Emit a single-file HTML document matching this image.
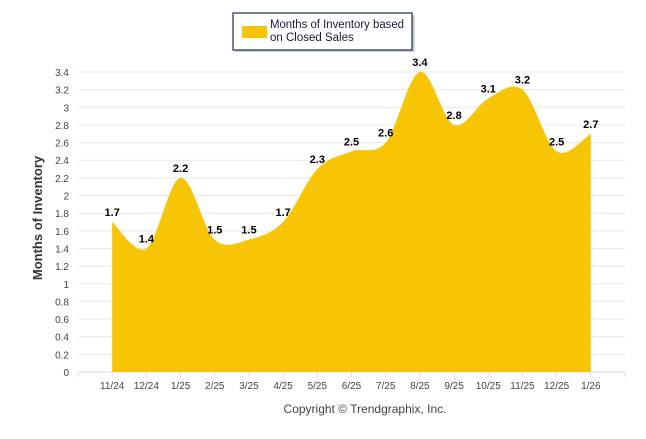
<!DOCTYPE html>
<html><head><meta charset="utf-8"><style>
body{margin:0;background:#fff;}
svg text{font-family:"Liberation Sans",Arial,sans-serif;}
</style></head><body>
<svg id="chart" width="646" height="434" xmlns="http://www.w3.org/2000/svg">
<g id="grid"></g>
<g id="area"></g>
<g id="yticks"></g>
<g id="xticks"></g>
<g id="labels"></g>
<text transform="translate(42,218) rotate(-90)" text-anchor="middle" font-size="13" font-weight="bold" fill="#333">Months of Inventory</text>
<text x="365" y="413" text-anchor="middle" font-size="12" fill="#444">Copyright © Trendgraphix, Inc.</text>
<g>
<rect x="235" y="15" width="180" height="37" fill="#888" opacity="0.4"/>
<rect x="233" y="13" width="179" height="37" fill="#fff" stroke="#1f2d4d" stroke-width="1.2"/>
<rect x="242" y="26" width="25" height="12" fill="#f7c406"/>
<text x="270" y="28" font-size="11.5" textLength="134" lengthAdjust="spacingAndGlyphs" fill="#1a1a40">Months of Inventory based</text>
<text x="270" y="41" font-size="11.5" fill="#1a1a40">on Closed Sales</text>
</g>
</svg>
<script>
const categories=["11/24","12/24","1/25","2/25","3/25","4/25","5/25","6/25","7/25","8/25","9/25","10/25","11/25","12/25","1/26"];
const values=[1.7,1.4,2.2,1.5,1.5,1.7,2.3,2.5,2.6,3.4,2.8,3.1,3.2,2.5,2.7];
const yTicks=[0,0.2,0.4,0.6,0.8,1,1.2,1.4,1.6,1.8,2,2.2,2.4,2.6,2.8,3,3.2,3.4];
const NS="http://www.w3.org/2000/svg";
const X0=78,X1=625,Y0=372,Y1=72,YMAX=3.4;
const step=(X1-X0)/(categories.length+1);
function xs(i){return X0+step*(i+1);}
function ys(v){return Y0-(v/YMAX)*(Y0-Y1);}
function mk(t,a,p){const e=document.createElementNS(NS,t);for(const k in a)e.setAttribute(k,a[k]);p.appendChild(e);return e;}
const grid=document.getElementById('grid'),yt=document.getElementById('yticks');
yTicks.forEach(v=>{
 const l=mk('line',{x1:X0,x2:X1,y1:ys(v),y2:ys(v),stroke:v===0?'#ddd':'#e8e8e8','stroke-width':1},grid);
 
 
 const t=mk('text',{x:69,y:ys(v)+4,'text-anchor':'end','font-size':10,fill:'#444'},yt);
 t.textContent=String(v);
 
 
});
const xt=document.getElementById('xticks');
for(let i=0;i<=categories.length+1;i++){const x=X0+step*i;mk('line',{x1:x,x2:x,y1:Y0,y2:Y0+5,stroke:'#ddd'},xt);}
categories.forEach((c,i)=>{
 const t=mk('text',{x:xs(i),y:Y0+17,'text-anchor':'middle','font-size':10,fill:'#444'},xt);
 t.textContent=c;
 
 
});
const pts=values.map((v,i)=>[xs(i),ys(v)]);
let d=`M${pts[0][0]},${Y0} L${pts[0][0]},${pts[0][1]}`;
for(let i=0;i<pts.length-1;i++){
 const p0=pts[Math.max(0,i-1)],p1=pts[i],p2=pts[i+1],p3=pts[Math.min(pts.length-1,i+2)];
 const s=1/6;
 let c1=[p1[0]+(p2[0]-p0[0])*s,p1[1]+(p2[1]-p0[1])*s];
 let c2=[p2[0]-(p3[0]-p1[0])*s,p2[1]-(p3[1]-p1[1])*s];
 d+=` C${c1[0]},${c1[1]} ${c2[0]},${c2[1]} ${p2[0]},${p2[1]}`;
}
d+=` L${pts[pts.length-1][0]},${Y0} Z`;
const area=mk('path',{d:d,fill:'#f7c406'},document.getElementById('area'));


const lg=document.getElementById('labels');
values.forEach((v,i)=>{
 const t=mk('text',{x:xs(i),y:ys(v)-6,'text-anchor':'middle','font-size':11,'font-weight':'bold',fill:'#000'},lg);
 t.textContent=String(v);
 
 
});
</script>
</body></html>
